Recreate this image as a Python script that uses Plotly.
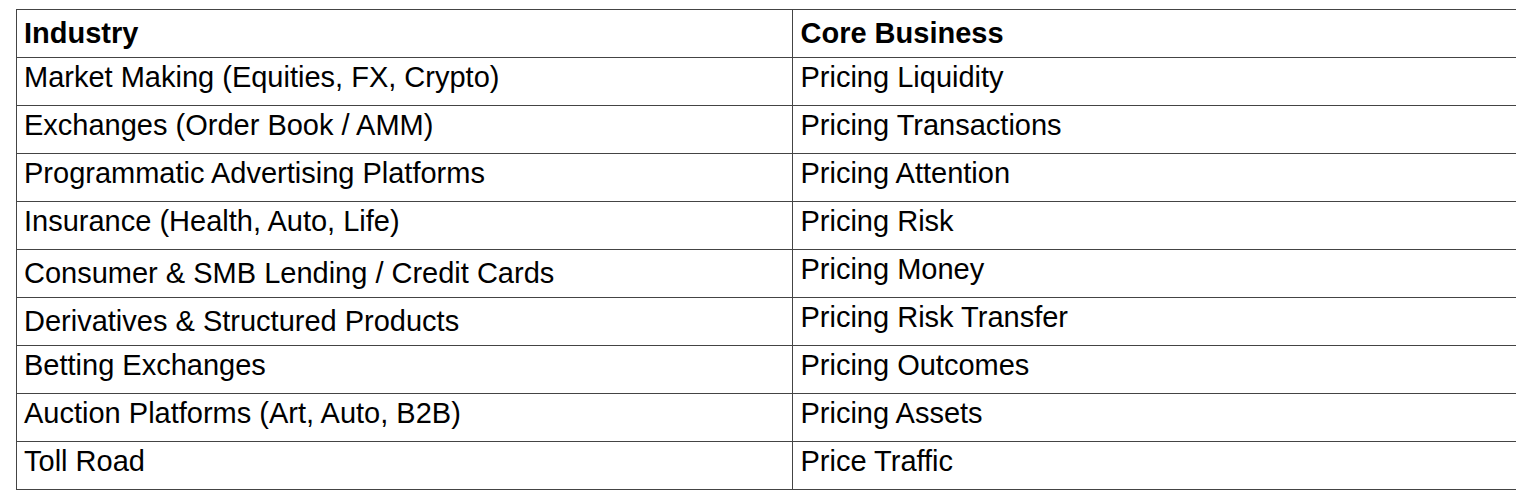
import plotly.graph_objects as go

headers = ["Industry", "Core Business"]
industries = ["Market Making (Equities, FX, Crypto)", "Exchanges (Order Book / AMM)",
              "Programmatic Advertising Platforms", "Insurance (Health, Auto, Life)",
              "Consumer & SMB Lending / Credit Cards", "Derivatives & Structured Products",
              "Betting Exchanges", "Auction Platforms (Art, Auto, B2B)", "Toll Road"]
core = ["Pricing Liquidity", "Pricing Transactions", "Pricing Attention", "Pricing Risk",
        "Pricing Money", "Pricing Risk Transfer", "Pricing Outcomes", "Pricing Assets",
        "Price Traffic"]

fig = go.Figure(go.Table(
    columnwidth=[777, 731],
    header=dict(values=["<b>%s</b>" % h for h in headers], height=48, align="left",
                fill_color="white", line=dict(color="#444", width=1),
                font=dict(family="Liberation Sans", size=29, color="black")),
    cells=dict(values=[industries, core], height=48, align="left",
               fill_color="white", line=dict(color="#444", width=1),
               font=dict(family="Liberation Sans", size=29, color="black")),
))
fig.update_layout(width=1524, height=501, margin=dict(l=8, r=9, t=1, b=0),
                  paper_bgcolor="white")
fig.write_html("out.html")
